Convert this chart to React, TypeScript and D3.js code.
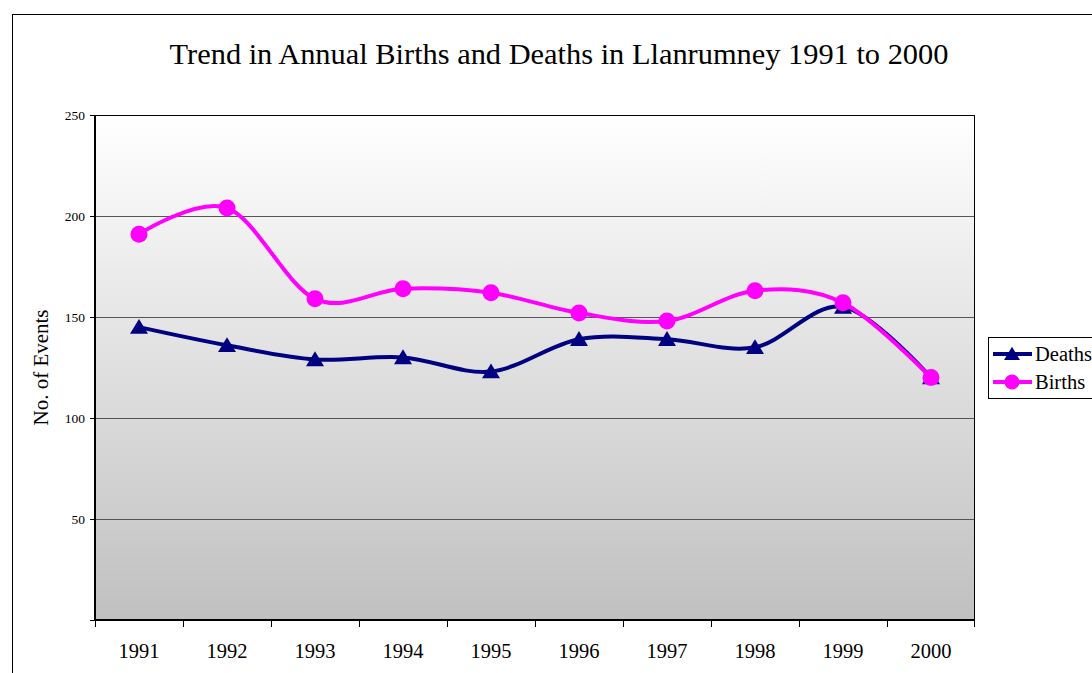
import React from "react";
import * as d3 from "d3";

const years = ["1991", "1992", "1993", "1994", "1995", "1996", "1997", "1998", "1999", "2000"];
const deaths = [145, 136, 129, 130, 123, 139, 139, 135, 155, 120];
const births = [191, 204, 159, 164, 162, 152, 148, 163, 157, 120];
const yTicks = [50, 100, 150, 200, 250];

export default function App() {
  const W = 1092, H = 673;
  const left = 95, right = 975, top = 115, bottom = 620;
  const x = d3.scaleBand<string>().domain(years).range([left, right]);
  const y = d3.scaleLinear().domain([0, 250]).range([bottom, top]);
  const cx = (d: string) => (x(d) as number) + x.bandwidth() / 2;
  const line = d3.line<number>()
    .x((_, i) => cx(years[i]))
    .y((v) => y(v))
    .curve(d3.curveCardinal.tension(0));
  const tri = (px: number, py: number, s: number) =>
    `M${px},${py - s * 0.9} L${px + s},${py + s * 0.75} L${px - s},${py + s * 0.75} Z`;
  const font = "'Liberation Serif', 'Times New Roman', serif";
  return (
    <svg width={W} height={H} style={{ position: "absolute", left: 0, top: 0 }} fontFamily={font}>
      <defs>
        <linearGradient id="bg" x1="0" y1="0" x2="0" y2="1">
          <stop offset="0" stopColor="#ffffff" />
          <stop offset="1" stopColor="#c0c0c0" />
        </linearGradient>
      </defs>
      <rect x={0} y={0} width={W} height={H} fill="#fff" />
      <rect x={12.5} y={14.5} width={W + 20} height={H + 20} fill="#fff" stroke="#000" strokeWidth={1} />
      <text x={559} y={64} textAnchor="middle" fontSize={30.4}>
        Trend in Annual Births and Deaths in Llanrumney 1991 to 2000
      </text>
      <rect x={left} y={top} width={right - left} height={bottom - top} fill="url(#bg)" />
      {yTicks.map((t) => (
        <g key={t}>
          {t < 250 && (
            <line x1={left} x2={right} y1={Math.round(y(t)) + 0.5} y2={Math.round(y(t)) + 0.5} stroke="#555" strokeWidth={1} />
          )}
          <line x1={left - 5} x2={left} y1={Math.round(y(t)) + 0.5} y2={Math.round(y(t)) + 0.5} stroke="#000" />
          <text x={left - 10} y={y(t) + 4.5} textAnchor="end" fontSize={13.5}>{t}</text>
        </g>
      ))}
      <line x1={left - 5} x2={left} y1={bottom + 0.5} y2={bottom + 0.5} stroke="#000" />
      <rect x={left + 0.5} y={top + 0.5} width={right - left - 1} height={bottom - top - 1} fill="none" stroke="#000" strokeWidth={1} />
      <line x1={left} x2={right} y1={bottom} y2={bottom} stroke="#000" strokeWidth={2} />
      <line x1={left} x2={left} y1={top} y2={bottom} stroke="#000" strokeWidth={2} />
      {years.map((yr, i) => (
        <line key={"t" + i} x1={Math.round(x(yr) as number) + 0.5} x2={Math.round(x(yr) as number) + 0.5} y1={bottom} y2={bottom + 7} stroke="#000" />
      ))}
      <line x1={right - 0.5} x2={right - 0.5} y1={bottom} y2={bottom + 7} stroke="#000" />
      {years.map((yr) => (
        <text key={"l" + yr} x={cx(yr)} y={658} textAnchor="middle" fontSize={20.5}>{yr}</text>
      ))}
      <text transform={`translate(48,${(top + bottom) / 2}) rotate(-90)`} textAnchor="middle" fontSize={21}>
        No. of Events
      </text>
      <path d={line(deaths) || ""} fill="none" stroke="#000080" strokeWidth={4} />
      {deaths.map((v, i) => (
        <path key={"d" + i} d={tri(cx(years[i]), y(v), 9)} fill="#000080" />
      ))}
      <path d={line(births) || ""} fill="none" stroke="#ff00ff" strokeWidth={4} />
      {births.map((v, i) => (
        <circle key={"b" + i} cx={cx(years[i])} cy={y(v)} r={8.5} fill="#ff00ff" />
      ))}
      <g>
        <rect x={988.5} y={337.5} width={120} height={61} fill="#fff" stroke="#000" />
        <line x1={993} x2={1032} y1={354} y2={354} stroke="#000080" strokeWidth={4} />
        <path d={tri(1012, 354, 8)} fill="#000080" />
        <text x={1035} y={361} fontSize={20.5}>Deaths</text>
        <line x1={993} x2={1032} y1={382} y2={382} stroke="#ff00ff" strokeWidth={4} />
        <circle cx={1012} cy={382} r={7.5} fill="#ff00ff" />
        <text x={1035} y={389} fontSize={20.5}>Births</text>
      </g>
    </svg>
  );
}
